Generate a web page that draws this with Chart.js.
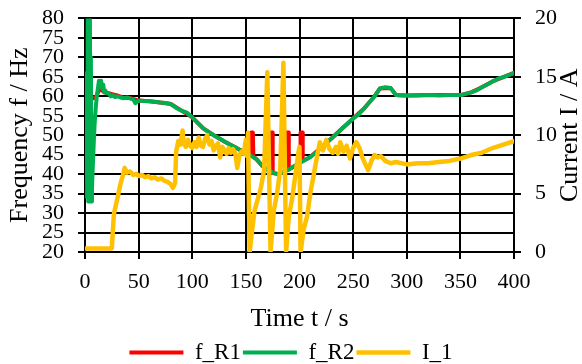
<!DOCTYPE html>
<html>
<head>
<meta charset="utf-8">
<script src="https://cdn.jsdelivr.net/npm/chart.js@4.4.0/dist/chart.umd.min.js"></script>
<style>
  html, body { margin: 0; padding: 0; background: #fff; }
</style>
</head>
<body>
<canvas id="freqChart" width="582" height="364"></canvas>
<script>
// Series data (time in s)
const tR2 = [1.5, 2, 2.5, 3, 3.5, 4, 4.5, 5, 5.5, 6, 6.5, 7, 8, 9, 10, 11, 12, 13, 14, 15, 16, 17, 18, 19, 20, 22, 24, 26, 28, 30, 35, 40, 45, 47, 50, 55, 60, 65, 70, 75, 80, 85, 90, 95, 100, 105, 110, 115, 120, 125, 130, 135, 140, 145, 150, 155, 160, 165, 170, 175, 180, 185, 190, 195, 200, 205, 210, 215, 220, 225, 230, 235, 240, 245, 250, 255, 260, 265, 270, 275, 280, 285, 290, 295, 300, 310, 320, 330, 340, 350, 355, 360, 365, 370, 375, 380, 385, 390, 395, 400];
const fR2 = [66, 34, 95, 33, 95, 36, 90, 33, 70, 33, 36, 40, 47, 53, 57, 60, 62, 64, 63, 64, 62, 63, 61, 61.5, 60.8, 60.8, 60, 60.2, 59.8, 60, 59.5, 59.6, 59.2, 58.2, 58.9, 58.8, 58.7, 58.6, 58.4, 58.3, 58, 57, 56.3, 55.8, 54.6, 53.2, 51.8, 50.8, 50, 49.2, 48.4, 47.6, 46.9, 46.1, 45.4, 44.7, 43.8, 42.2, 41.2, 40.4, 40, 40.5, 41.2, 42, 42.8, 43.6, 44.4, 45.5, 46.8, 48, 49.2, 50.5, 51.8, 53, 54.3, 55.3, 56.8, 58.4, 60, 62, 62.3, 62.1, 60.3, 60.2, 60.2, 60.2, 60.3, 60.2, 60.3, 60.3, 60.6, 61, 61.5, 62.3, 63, 63.8, 64.5, 64.9, 65.4, 66];

const tR1 = [1, 3, 5, 8, 10, 14, 18, 22, 26, 30, 35, 40, 50, 60, 70, 80, 90, 100, 110, 120, 130, 140, 150, 154.5, 155, 156.5, 157, 160, 165, 170, 172.5, 173, 174.5, 175, 180, 185, 187.5, 188, 189.5, 190, 195, 200.5, 201, 202.5, 203, 205, 210, 220, 230, 240, 250, 260, 270, 275, 285, 290, 300, 320, 340, 350, 360, 370, 380, 390, 400];
const fR1 = [60, 59.6, 59.5, 59.5, 59.8, 62, 61, 60.8, 60.5, 60.2, 59.7, 59.7, 58.9, 58.7, 58.4, 58, 56.3, 54.6, 51.8, 50, 48.4, 46.9, 45.4, 44.9, 50.7, 50.7, 44.5, 43.8, 42.2, 41.2, 40.6, 50.7, 50.7, 40.3, 40, 40.5, 41, 50.7, 50.7, 41.2, 42, 43, 50.7, 50.7, 43.4, 43.6, 44.4, 46.8, 49.2, 51.8, 54.3, 56.8, 60, 62, 62.1, 60.3, 60.2, 60.3, 60.3, 60.3, 61, 62.3, 63.8, 64.9, 66];

const tI1 = [0, 10, 20, 25, 26, 27, 30, 33, 36, 37, 39, 42, 45, 48, 50, 53, 56, 59, 62, 65, 68, 71, 74, 77, 80, 82, 84, 85, 87, 89, 91, 92, 94, 96, 98, 100, 102, 104, 106, 108, 110, 112, 114, 116, 118, 120, 122, 124, 126, 128, 130, 132, 134, 136, 138, 140, 142, 144, 146, 148, 150, 151, 152, 153.5, 156, 158, 161, 164, 167, 170, 173, 176, 179, 182, 185, 187.5, 190, 193, 196, 199, 200, 201, 204, 207, 210, 214, 217, 219, 222, 225, 228, 231, 234, 236, 238, 241, 244, 247, 250, 253, 256, 259, 262, 264, 267, 270, 273, 276, 280, 285, 290, 300, 310, 320, 330, 340, 350, 360, 370, 380, 390, 400];
const I1 = [0.3, 0.3, 0.3, 0.3, 1.9, 3.3, 4.5, 5.8, 6.8, 7.2, 6.8, 6.9, 6.6, 6.7, 6.5, 6.6, 6.4, 6.5, 6.3, 6.4, 6.2, 6.3, 6.1, 6.0, 5.8, 5.5, 5.9, 8.6, 9.5, 9.2, 10.4, 9.3, 9.0, 9.6, 9.1, 8.9, 9.4, 9.0, 9.8, 9.1, 9.0, 9.7, 10.0, 9.2, 9.5, 8.7, 9.1, 9.3, 8.1, 9.0, 8.7, 8.4, 8.9, 8.5, 8.8, 8.5, 7.2, 8.3, 8.6, 8.4, 9.6, 8.2, 10.2, 0, 2, 3.5, 4.5, 5.5, 7, 15.4, 0, 3.5, 5, 7, 16.2, 0, 3, 4.5, 6.5, 8.5, 9, 0, 2, 3, 5, 7, 8.5, 9.4, 8.7, 9.6, 8.8, 8.5, 9.0, 8.4, 9.4, 8.6, 9.1, 8.0, 8.9, 9.4, 8.9, 8.0, 7.4, 7.0, 7.8, 8.3, 8.1, 8.2, 7.8, 7.6, 7.7, 7.5, 7.6, 7.6, 7.7, 7.8, 8.0, 8.3, 8.5, 8.9, 9.2, 9.5];

// Axis limits
const freqRange = [20, 80];
const currRange = [0, 20];
const timeRange = [0, 400];

const FONT = '"Liberation Serif", "Times New Roman", serif';

function toPoints(xs, ys) {
  return xs.map((x, i) => ({ x: x, y: ys[i] }));
}

// Right axis title reads bottom-to-top like the left one
const rightTitle = {
  id: 'rightTitle',
  afterDraw(chart) {
    const { ctx, chartArea } = chart;
    ctx.save();
    ctx.translate(chart.width - 12, (chartArea.top + chartArea.bottom) / 2);
    ctx.rotate(-Math.PI / 2);
    ctx.font = '26px ' + FONT;
    ctx.fillStyle = '#000';
    ctx.textAlign = 'center';
    ctx.textBaseline = 'middle';
    ctx.fillText('Current I / A', 0, 0);
    ctx.restore();
  }
};

const ctx = document.getElementById('freqChart').getContext('2d');
new Chart(ctx, {
  type: 'line',
  data: {
    datasets: [
      {
        label: 'f_R1',
        data: toPoints(tR1, fR1),
        yAxisID: 'yF',
        borderColor: '#FF0000',
        backgroundColor: '#FF0000',
        borderWidth: 4,
        order: 3
      },
      {
        label: 'f_R2',
        data: toPoints(tR2, fR2),
        yAxisID: 'yF',
        borderColor: '#00B050',
        backgroundColor: '#00B050',
        borderWidth: 4,
        order: 2
      },
      {
        label: 'I_1',
        data: toPoints(tI1, I1),
        yAxisID: 'yI',
        borderColor: '#FFC000',
        backgroundColor: '#FFC000',
        borderWidth: 4.5,
        order: 1
      }
    ]
  },
  options: {
    responsive: false,
    animation: false,
    elements: {
      point: { radius: 0 },
      line: { tension: 0, borderJoinStyle: 'round', borderCapStyle: 'round' }
    },
    layout: { padding: { top: 0, left: 0, right: 0, bottom: -10 } },
    scales: {
      x: {
        type: 'linear',
        min: timeRange[0],
        max: timeRange[1],
        ticks: { stepSize: 50, color: '#000', font: { family: FONT, size: 22 }, padding: 10, maxRotation: 0 },
        grid: { color: '#000', lineWidth: 2, tickLength: 7 },
        border: { color: '#000', width: 2 },
        title: { display: true, text: 'Time t / s', color: '#000', font: { family: FONT, size: 26 }, padding: { top: 0, bottom: 4 } },
        afterFit(scale) { scale.height = 87; }
      },
      yF: {
        type: 'linear',
        position: 'left',
        min: freqRange[0],
        max: freqRange[1],
        ticks: { stepSize: 5, autoSkip: false, color: '#000', font: { family: FONT, size: 22, lineHeight: 0.4 }, padding: 14 },
        grid: { color: '#000', lineWidth: 2, tickLength: 7 },
        border: { color: '#000', width: 2 },
        title: { display: true, text: 'Frequency f / Hz', color: '#000', font: { family: FONT, size: 26 }, padding: { top: 5, bottom: 0 } },
        afterFit(scale) { scale.width = 85; }
      },
      yI: {
        type: 'linear',
        position: 'right',
        min: currRange[0],
        max: currRange[1],
        ticks: { stepSize: 5, autoSkip: false, color: '#000', font: { family: FONT, size: 22, lineHeight: 0.4 }, padding: 14 },
        grid: { drawOnChartArea: false, color: '#000', lineWidth: 2, tickLength: 7 },
        border: { color: '#000', width: 2 },
        afterFit(scale) { scale.width = 68; }
      }
    },
    plugins: {
      tooltip: { enabled: false },
      legend: {
        position: 'bottom',
        labels: {
          color: '#000',
          font: { family: FONT, size: 23, lineHeight: 1 },
          usePointStyle: true,
          pointStyle: 'line',
          pointStyleWidth: 54,
          padding: 2,
          sort: (a, b) => a.datasetIndex - b.datasetIndex
        }
      }
    }
  },
  plugins: [rightTitle]
});
</script>
</body>
</html>
